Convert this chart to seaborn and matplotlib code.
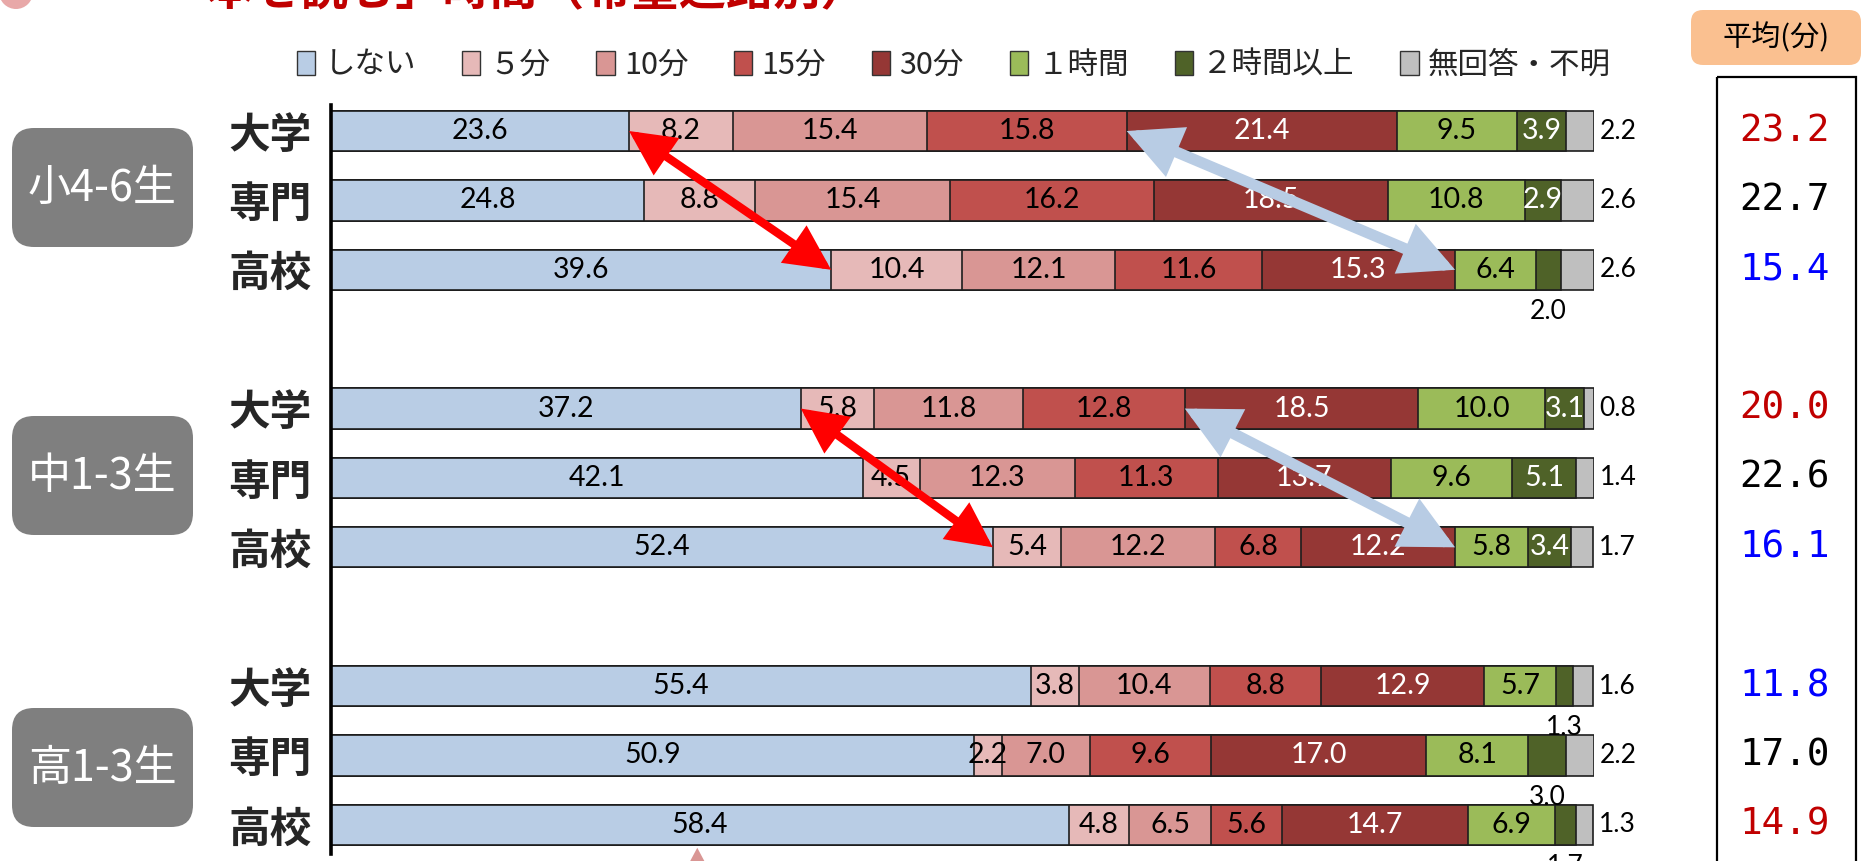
import numpy as np
import pandas as pd
import matplotlib
matplotlib.use("Agg")
import matplotlib.pyplot as plt
import matplotlib.transforms as mtransforms
from matplotlib.patches import FancyBboxPatch, Rectangle, Patch, Circle, FancyArrowPatch
import seaborn as sns

# 希望進路別「本を読む」時間（%）
grades = ["小4-6生", "中1-3生", "高1-3生"]
paths = ["大学", "専門", "高校"]
categories = ["しない", "５分", "10分", "15分", "30分", "１時間", "２時間以上", "無回答・不明"]
colors = ["#B9CDE5", "#E6B9B8", "#D99694", "#C0504D", "#953735", "#9BBB59", "#4F6228", "#BFBFBF"]
label_colors = ["black", "black", "black", "black", "white", "black", "white", "black"]

shinai = [23.6, 24.8, 39.6, 37.2, 42.1, 52.4, 55.4, 50.9, 58.4]
min5 = [8.2, 8.8, 10.4, 5.8, 4.5, 5.4, 3.8, 2.2, 4.8]
min10 = [15.4, 15.4, 12.1, 11.8, 12.3, 12.2, 10.4, 7.0, 6.5]
min15 = [15.8, 16.2, 11.6, 12.8, 11.3, 6.8, 8.8, 9.6, 5.6]
min30 = [21.4, 18.5, 15.3, 18.5, 13.7, 12.2, 12.9, 17.0, 14.7]
hour1 = [9.5, 10.8, 6.4, 10.0, 9.6, 5.8, 5.7, 8.1, 6.9]
hour2 = [3.9, 2.9, 2.0, 3.1, 5.1, 3.4, 1.3, 3.0, 1.7]
no_answer = [2.2, 2.6, 2.6, 0.8, 1.4, 1.7, 1.6, 2.2, 1.3]
hour2_label_below = [False, False, True, False, False, False, True, True, True]

mean_minutes = [23.2, 22.7, 15.4, 20.0, 22.6, 16.1, 11.8, 17.0, 14.9]
mean_colors = ["#C00000", "black", "#0000FF", "#C00000", "black", "#0000FF",
               "#0000FF", "black", "#C00000"]

series = [shinai, min5, min10, min15, min30, hour1, hour2, no_answer]
vals = np.array(series).T
cum = np.cumsum(vals, axis=1)

# one empty slot between school-grade groups
positions = [g * 4 + r for g in range(len(grades)) for r in range(len(paths))]
df = pd.DataFrame(cum, columns=[f"c{k}" for k in range(len(categories))])
df["pos"] = positions

sns.set_style("white")
plt.rcParams["font.family"] = ["Noto Sans CJK JP", "DejaVu Sans"]

W, H = 1865, 861
fig = plt.figure(figsize=(W / 100, H / 100), dpi=100)

# pixel-space layer for boxes and the title
ov = fig.add_axes([0, 0, 1, 1], zorder=0)
ov.set_xlim(0, W)
ov.set_ylim(H, 0)
ov.axis("off")

ax = fig.add_axes([331 / W, 1 - 854 / H, (1594 - 331) / W, (854 - 105) / H], zorder=1)
ax.patch.set_alpha(0)

# stacked bars: cumulative layers drawn from the widest down
for k in reversed(range(len(categories))):
    sns.barplot(data=df, x=f"c{k}", y="pos", orient="y", native_scale=True,
                color=colors[k], saturation=1, width=0.58, errorbar=None,
                edgecolor="#1e1e1e", linewidth=1.2, ax=ax)

ax.set_xlim(0, 100)
ax.set_ylim(10.42, -0.375)
ax.set_xticks([])
ax.set_xlabel("")
ax.set_ylabel("")
ax.set_yticks(positions)
ax.set_yticklabels(paths * len(grades), fontsize=30, fontweight="bold")
ax.tick_params(axis="y", length=0, pad=14)
for side in ["top", "right", "bottom"]:
    ax.spines[side].set_visible(False)
ax.spines["left"].set_linewidth(2.6)
ax.spines["left"].set_color("black")

num_font = ["Lato", "DejaVu Sans"]
for i, p in enumerate(positions):
    for k in range(len(categories)):
        v = vals[i, k]
        start = cum[i, k] - v
        centre = start + v / 2
        txt = f"{v:.1f}"
        if k == len(categories) - 1:
            ax.text(cum[i, k] + 0.45, p, txt, ha="left", va="center",
                    fontsize=19, family=num_font, color="black", clip_on=False)
        elif k == 6 and hour2_label_below[i]:
            ax.text(centre, p + 0.6, txt, ha="center", va="center",
                    fontsize=19, family=num_font, color="black", clip_on=False)
        else:
            ax.text(centre, p, txt, ha="center", va="center",
                    fontsize=20.5, family=num_font, color=label_colors[k])

# comparison arrows between 大学 and 高校 rows
def double_arrow(row_a, k_a, row_b, k_b, color, lw, scale):
    ya, yb = positions[row_a], positions[row_b]
    xa, xb = cum[row_a, k_a], cum[row_b, k_b]
    arr = FancyArrowPatch((xa, ya), (xb, yb),
                          arrowstyle="<|-|>,head_length=1.0,head_width=0.5",
                          mutation_scale=scale, lw=lw, color=color,
                          shrinkA=0, shrinkB=0, zorder=5, joinstyle="miter")
    ax.add_patch(arr)

double_arrow(0, 0, 2, 0, "#FF0000", 6, 23)
double_arrow(3, 0, 5, 0, "#FF0000", 6, 23)
double_arrow(0, 3, 2, 4, "#B8CCE4", 8, 26)
double_arrow(3, 3, 5, 4, "#B8CCE4", 8, 26)

tip = FancyArrowPatch((29, 11.4), (29, 10.29),
                      arrowstyle="simple,head_length=1.5,head_width=1.6,tail_width=0.6",
                      mutation_scale=20, color="#D99694", lw=0, clip_on=False, zorder=5)
ax.add_patch(tip)

# grade boxes
for g, name in enumerate(grades):
    top = [128, 416, 708][g]
    box = FancyBboxPatch((12, top), 181, 119, boxstyle="round,pad=0,rounding_size=22",
                         facecolor="#7F7F7F", edgecolor="none")
    ov.add_patch(box)
    ov.text(102, top + 61, name, ha="center", va="center", color="white", fontsize=31)

# mean minutes column
ov.add_patch(FancyBboxPatch((1691, 10), 170, 55, boxstyle="round,pad=0,rounding_size=12",
                            facecolor="#FAC090", edgecolor="none"))
ov.text(1776, 38, "平均(分)", ha="center", va="center", fontsize=21, color="black")
ov.add_patch(Rectangle((1717, 77), 139, 820, facecolor="none", edgecolor="black", lw=1.6))
blend = mtransforms.blended_transform_factory(fig.transFigure, ax.transData)
for p, m, c in zip(positions, mean_minutes, mean_colors):
    ax.text(1785 / W, p, f"{m:.1f}", transform=blend, ha="center", va="center",
            fontsize=27, family=["DejaVu Sans Mono"], color=c, clip_on=False)

# title (top edge of the page)
ov.add_patch(Circle((16, -8), 17, facecolor="#E8A8A8", edgecolor="none"))
ov.text(160, 5, "「本を読む」時間（希望進路別）", ha="left", va="baseline",
        fontsize=34, fontweight="bold", color="#C00000")

# legend
handles = [Patch(facecolor=c, edgecolor="#333333", lw=1.0) for c in colors]
fig.legend(handles, categories, loc="center", ncol=len(categories),
           bbox_to_anchor=(954 / W, 1 - 65 / H), bbox_transform=fig.transFigure,
           frameon=False, fontsize=22, handlelength=0.6, handleheight=0.8,
           handletextpad=0.3, columnspacing=1.5, borderpad=0)

fig.savefig("out.png", dpi=100, facecolor="white")
